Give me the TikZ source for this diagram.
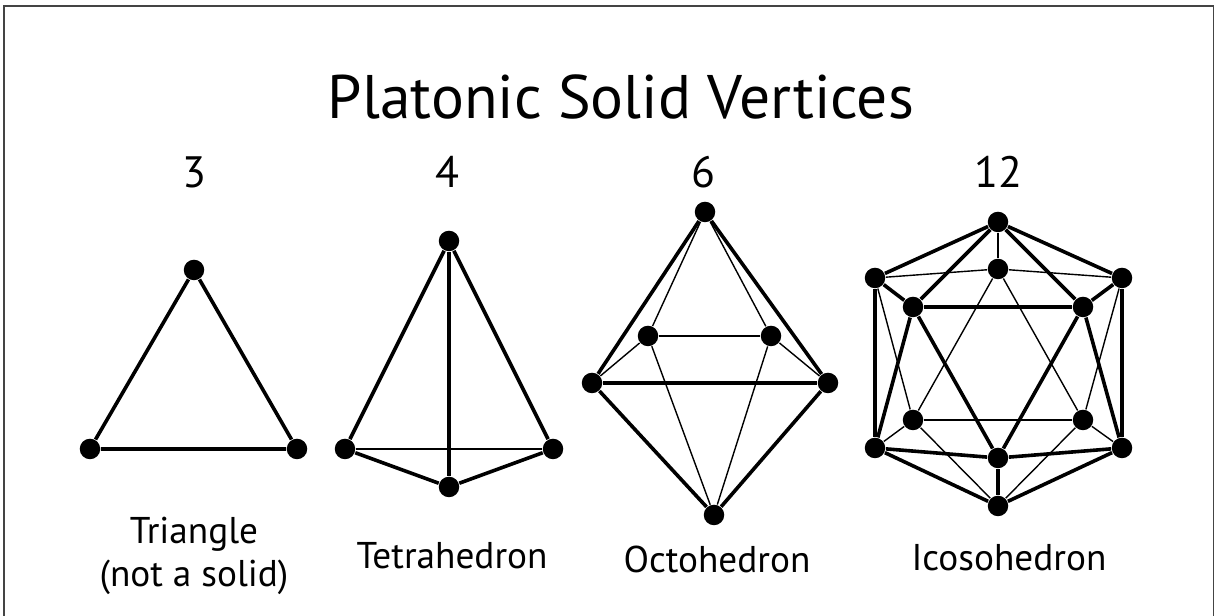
\documentclass[tikz,border=0pt]{standalone}
\usepackage{xcolor}
\usepackage{fontspec}
\setmainfont{PT Sans}
\definecolor{PSBlack}{HTML}{000000}
\definecolor{PSFrame}{HTML}{444444}
\tikzset{
  vertexdot/.style={circle,fill=PSBlack,inner sep=0pt,minimum size=0.205cm},
  edgeheavy/.style={draw=PSBlack,line width=0.036cm},
  edgelight/.style={draw=PSBlack,line width=0.014cm},
  titletext/.style={font=\fontsize{17.5}{21}\selectfont},
  counttext/.style={font=\fontsize{12.5}{15}\selectfont},
  nametext/.style={font=\fontsize{10.6}{12.2}\selectfont,align=center}
}
\begin{document}
\begin{tikzpicture}[x=1cm,y=1cm]
\path[use as bounding box] (0,0) rectangle (12.17,6.16);
\draw[PSFrame,line width=0.014cm] (0.04,-0.10) -- (0.04,6.10) -- (12.135,6.10) -- (12.135,-0.10);
\node[titletext] (title) at (6.21,5.19) {Platonic Solid Vertices};
\node[counttext] (countTri) at (1.94,4.44) {3};
\node[counttext] (countTet) at (4.47,4.44) {4};
\node[counttext] (countOct) at (7.03,4.44) {6};
\node[counttext] (countIco) at (9.98,4.44) {12};
\node[nametext] (nameTri) at (1.94,0.60) {Triangle\\(not a solid)};
\node[nametext] (nameTet) at (4.52,0.60) {Tetrahedron};
\node[nametext] (nameOct) at (7.17,0.57) {Octohedron};
\node[nametext] (nameIco) at (10.09,0.58) {Icosohedron};
% triangle
\node[vertexdot] (triT) at (1.94,3.46) {};
\node[vertexdot] (triL) at (0.90,1.67) {};
\node[vertexdot] (triR) at (2.97,1.67) {};
\draw[edgeheavy] (triT) -- (triL) -- (triR) -- (triT);
% tetrahedron
\node[vertexdot] (tetT) at (4.49,3.75) {};
\node[vertexdot] (tetL) at (3.45,1.67) {};
\node[vertexdot] (tetR) at (5.53,1.67) {};
\node[vertexdot] (tetB) at (4.49,1.29) {};
\draw[edgeheavy] (tetT) -- (tetL);
\draw[edgeheavy] (tetT) -- (tetR);
\draw[edgeheavy] (tetT) -- (tetB);
\draw[edgeheavy] (tetL) -- (tetB);
\draw[edgeheavy] (tetR) -- (tetB);
\draw[edgelight] (tetL) -- (tetR);
% octahedron
\node[vertexdot] (octT) at (7.05,4.04) {};
\node[vertexdot] (octL) at (5.92,2.33) {};
\node[vertexdot] (octR) at (8.28,2.33) {};
\node[vertexdot] (octIL) at (6.48,2.80) {};
\node[vertexdot] (octIR) at (7.71,2.80) {};
\node[vertexdot] (octB) at (7.14,1.01) {};
\draw[edgeheavy] (octT) -- (octL);
\draw[edgeheavy] (octT) -- (octR);
\draw[edgeheavy] (octL) -- (octR);
\draw[edgeheavy] (octL) -- (octB);
\draw[edgeheavy] (octR) -- (octB);
\draw[edgelight] (octT) -- (octIL);
\draw[edgelight] (octT) -- (octIR);
\draw[edgelight] (octIL) -- (octIR);
\draw[edgelight] (octIL) -- (octL);
\draw[edgelight] (octIR) -- (octR);
\draw[edgelight] (octIL) -- (octB);
\draw[edgelight] (octIR) -- (octB);
% icosahedron
\node[vertexdot] (icoT) at (9.98,3.94) {};
\node[vertexdot] (icoC) at (9.98,3.47) {};
\node[vertexdot] (icoUL) at (8.75,3.38) {};
\node[vertexdot] (icoUR) at (11.22,3.38) {};
\node[vertexdot] (icoIL) at (9.13,3.09) {};
\node[vertexdot] (icoIR) at (10.83,3.09) {};
\node[vertexdot] (icoJL) at (9.13,1.96) {};
\node[vertexdot] (icoJR) at (10.83,1.96) {};
\node[vertexdot] (icoLL) at (8.75,1.68) {};
\node[vertexdot] (icoLR) at (11.22,1.68) {};
\node[vertexdot] (icoD) at (9.98,1.58) {};
\node[vertexdot] (icoB) at (9.98,1.10) {};
\draw[edgeheavy] (icoT) -- (icoUL);
\draw[edgeheavy] (icoT) -- (icoUR);
\draw[edgeheavy] (icoT) -- (icoIL);
\draw[edgeheavy] (icoT) -- (icoIR);
\draw[edgeheavy] (icoUL) -- (icoIL);
\draw[edgeheavy] (icoUR) -- (icoIR);
\draw[edgeheavy] (icoIL) -- (icoIR);
\draw[edgeheavy] (icoIL) -- (icoLL);
\draw[edgeheavy] (icoIR) -- (icoLR);
\draw[edgeheavy] (icoIL) -- (icoD);
\draw[edgeheavy] (icoIR) -- (icoD);
\draw[edgeheavy] (icoUL) -- (icoLL);
\draw[edgeheavy] (icoUR) -- (icoLR);
\draw[edgeheavy] (icoLL) -- (icoD);
\draw[edgeheavy] (icoLR) -- (icoD);
\draw[edgeheavy] (icoLL) -- (icoB);
\draw[edgeheavy] (icoLR) -- (icoB);
\draw[edgeheavy] (icoD) -- (icoB);
\draw[edgelight] (icoT) -- (icoC);
\draw[edgelight] (icoC) -- (icoUL);
\draw[edgelight] (icoC) -- (icoUR);
\draw[edgelight] (icoC) -- (icoJL);
\draw[edgelight] (icoC) -- (icoJR);
\draw[edgelight] (icoUL) -- (icoJL);
\draw[edgelight] (icoUR) -- (icoJR);
\draw[edgelight] (icoJL) -- (icoJR);
\draw[edgelight] (icoJL) -- (icoLL);
\draw[edgelight] (icoJR) -- (icoLR);
\draw[edgelight] (icoJL) -- (icoB);
\draw[edgelight] (icoJR) -- (icoB);
\end{tikzpicture}
\end{document}
